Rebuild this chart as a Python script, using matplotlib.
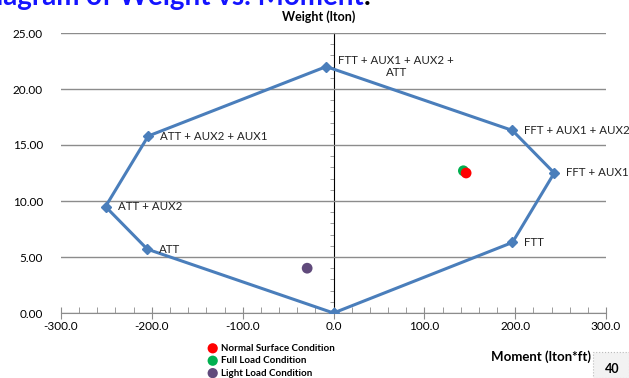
import matplotlib.pyplot as plt
from matplotlib.patches import Rectangle
from matplotlib.ticker import MultipleLocator, FormatStrFormatter, NullFormatter

plt.rcParams['font.family'] = ['Lato', 'DejaVu Sans']

# envelope of weight vs moment (closed polygon, starts/ends at origin)
env_moment = [0, 197, 243, 197, -8, -204, -251, -205, 0]
env_weight = [0, 6.3, 12.5, 16.3, 22.0, 15.8, 9.5, 5.7, 0]
env_labels = ["", "FTT", "FFT + AUX1", "FFT + AUX1 + AUX2",
              "FTT + AUX1 + AUX2 +\nATT", "ATT + AUX2 + AUX1",
              "ATT + AUX2", "ATT", ""]

cond_names = ["Normal Surface Condition", "Full Load Condition", "Light Load Condition"]
cond_moment = [146, 143, -29]
cond_weight = [12.5, 12.7, 4.0]
cond_colors = ["#ff0000", "#00b050", "#604a7b"]

fig = plt.figure(figsize=(6.29, 3.78), dpi=100)
ax = fig.add_axes([61 / 629, 1 - 313 / 378, 545 / 629, 280 / 378])

ax.plot(env_moment, env_weight, color="#4a7ebb", linewidth=2.2,
        marker="D", markersize=5.5, zorder=3)
for m, w, lab in zip(env_moment, env_weight, env_labels):
    if lab:
        ax.annotate(lab, (m, w), xytext=(12, 0), textcoords="offset pixels",
                    ha="left", va="center", multialignment="center",
                    fontsize=8.3, color="#222222")

# green drawn first so red sits on top
handles = {}
for i in [1, 0, 2]:
    handles[i] = ax.scatter(cond_moment[i], cond_weight[i], s=60, color=cond_colors[i],
                            edgecolors="none", zorder=4, label=cond_names[i])
handles = [handles[i] for i in range(3)]

ax.set_xlim(-300, 300)
ax.set_ylim(0, 25)
ax.xaxis.set_major_locator(MultipleLocator(100))
ax.xaxis.set_minor_locator(MultipleLocator(20))
ax.xaxis.set_major_formatter(FormatStrFormatter("%.1f"))
ax.yaxis.set_major_locator(MultipleLocator(5))
ax.yaxis.set_major_formatter(FormatStrFormatter("%.2f"))
ax.grid(axis="y", color="#8c8c8c", linewidth=1.0)
for s in ["top", "right", "left"]:
    ax.spines[s].set_visible(False)
ax.spines["bottom"].set_color("#8c8c8c")
ax.tick_params(axis="x", which="major", direction="inout", length=8,
               color="#8c8c8c", labelsize=8.5, pad=2)
ax.tick_params(axis="x", which="minor", direction="in", length=4, color="#8c8c8c")
ax.tick_params(axis="y", which="both", length=0, labelsize=8.5, pad=13)

# vertical axis line through x = 0 with its minor ticks
sec = ax.secondary_yaxis(0.5)
sec.spines["left"].set_color("#8c8c8c")
sec.yaxis.set_major_locator(MultipleLocator(5))
sec.yaxis.set_minor_locator(MultipleLocator(1))
sec.yaxis.set_major_formatter(NullFormatter())
sec.tick_params(which="both", direction="in", color="#8c8c8c",
                labelleft=False, labelright=False)
sec.tick_params(which="major", length=0)
sec.tick_params(which="minor", length=3)

fig.text(319 / 629, 1 - 17 / 378, "Weight (lton)", ha="center", va="center",
         fontsize=9, fontweight="bold")
fig.text(541 / 629, 1 - 357 / 378, "Moment (lton*ft)", ha="center", va="center",
         fontsize=9.5, fontweight="bold")

fig.legend(handles=handles, labels=cond_names, loc="upper left",
           bbox_to_anchor=(202 / 629, 1 - 339 / 378), frameon=False,
           prop={"weight": "bold", "size": 7}, handletextpad=0.3,
           labelspacing=0.35, borderpad=0, handlelength=1.2, markerscale=0.95)

# slide title, clipped by the screenshot
fig.text(364 / 629, 1 - 5 / 378, "Diagram of Weight vs. Moment", ha="right",
         va="baseline", fontsize=20, fontweight="bold", color="#1414ff")
fig.text(364 / 629, 1 - 5 / 378, ".", ha="left", va="baseline",
         fontsize=20, fontweight="bold", color="black")

# page number box
fig.patches.append(Rectangle((593 / 629, 0), 36 / 629, 26 / 378,
                             transform=fig.transFigure, facecolor="#f2f2f2",
                             edgecolor="#bbbbbb", linestyle=":", linewidth=0.8))
fig.text(612 / 629, 1 - 369 / 378, "40", ha="center", va="center",
         fontsize=9, fontweight="bold")

fig.savefig("out.png", dpi=100)
